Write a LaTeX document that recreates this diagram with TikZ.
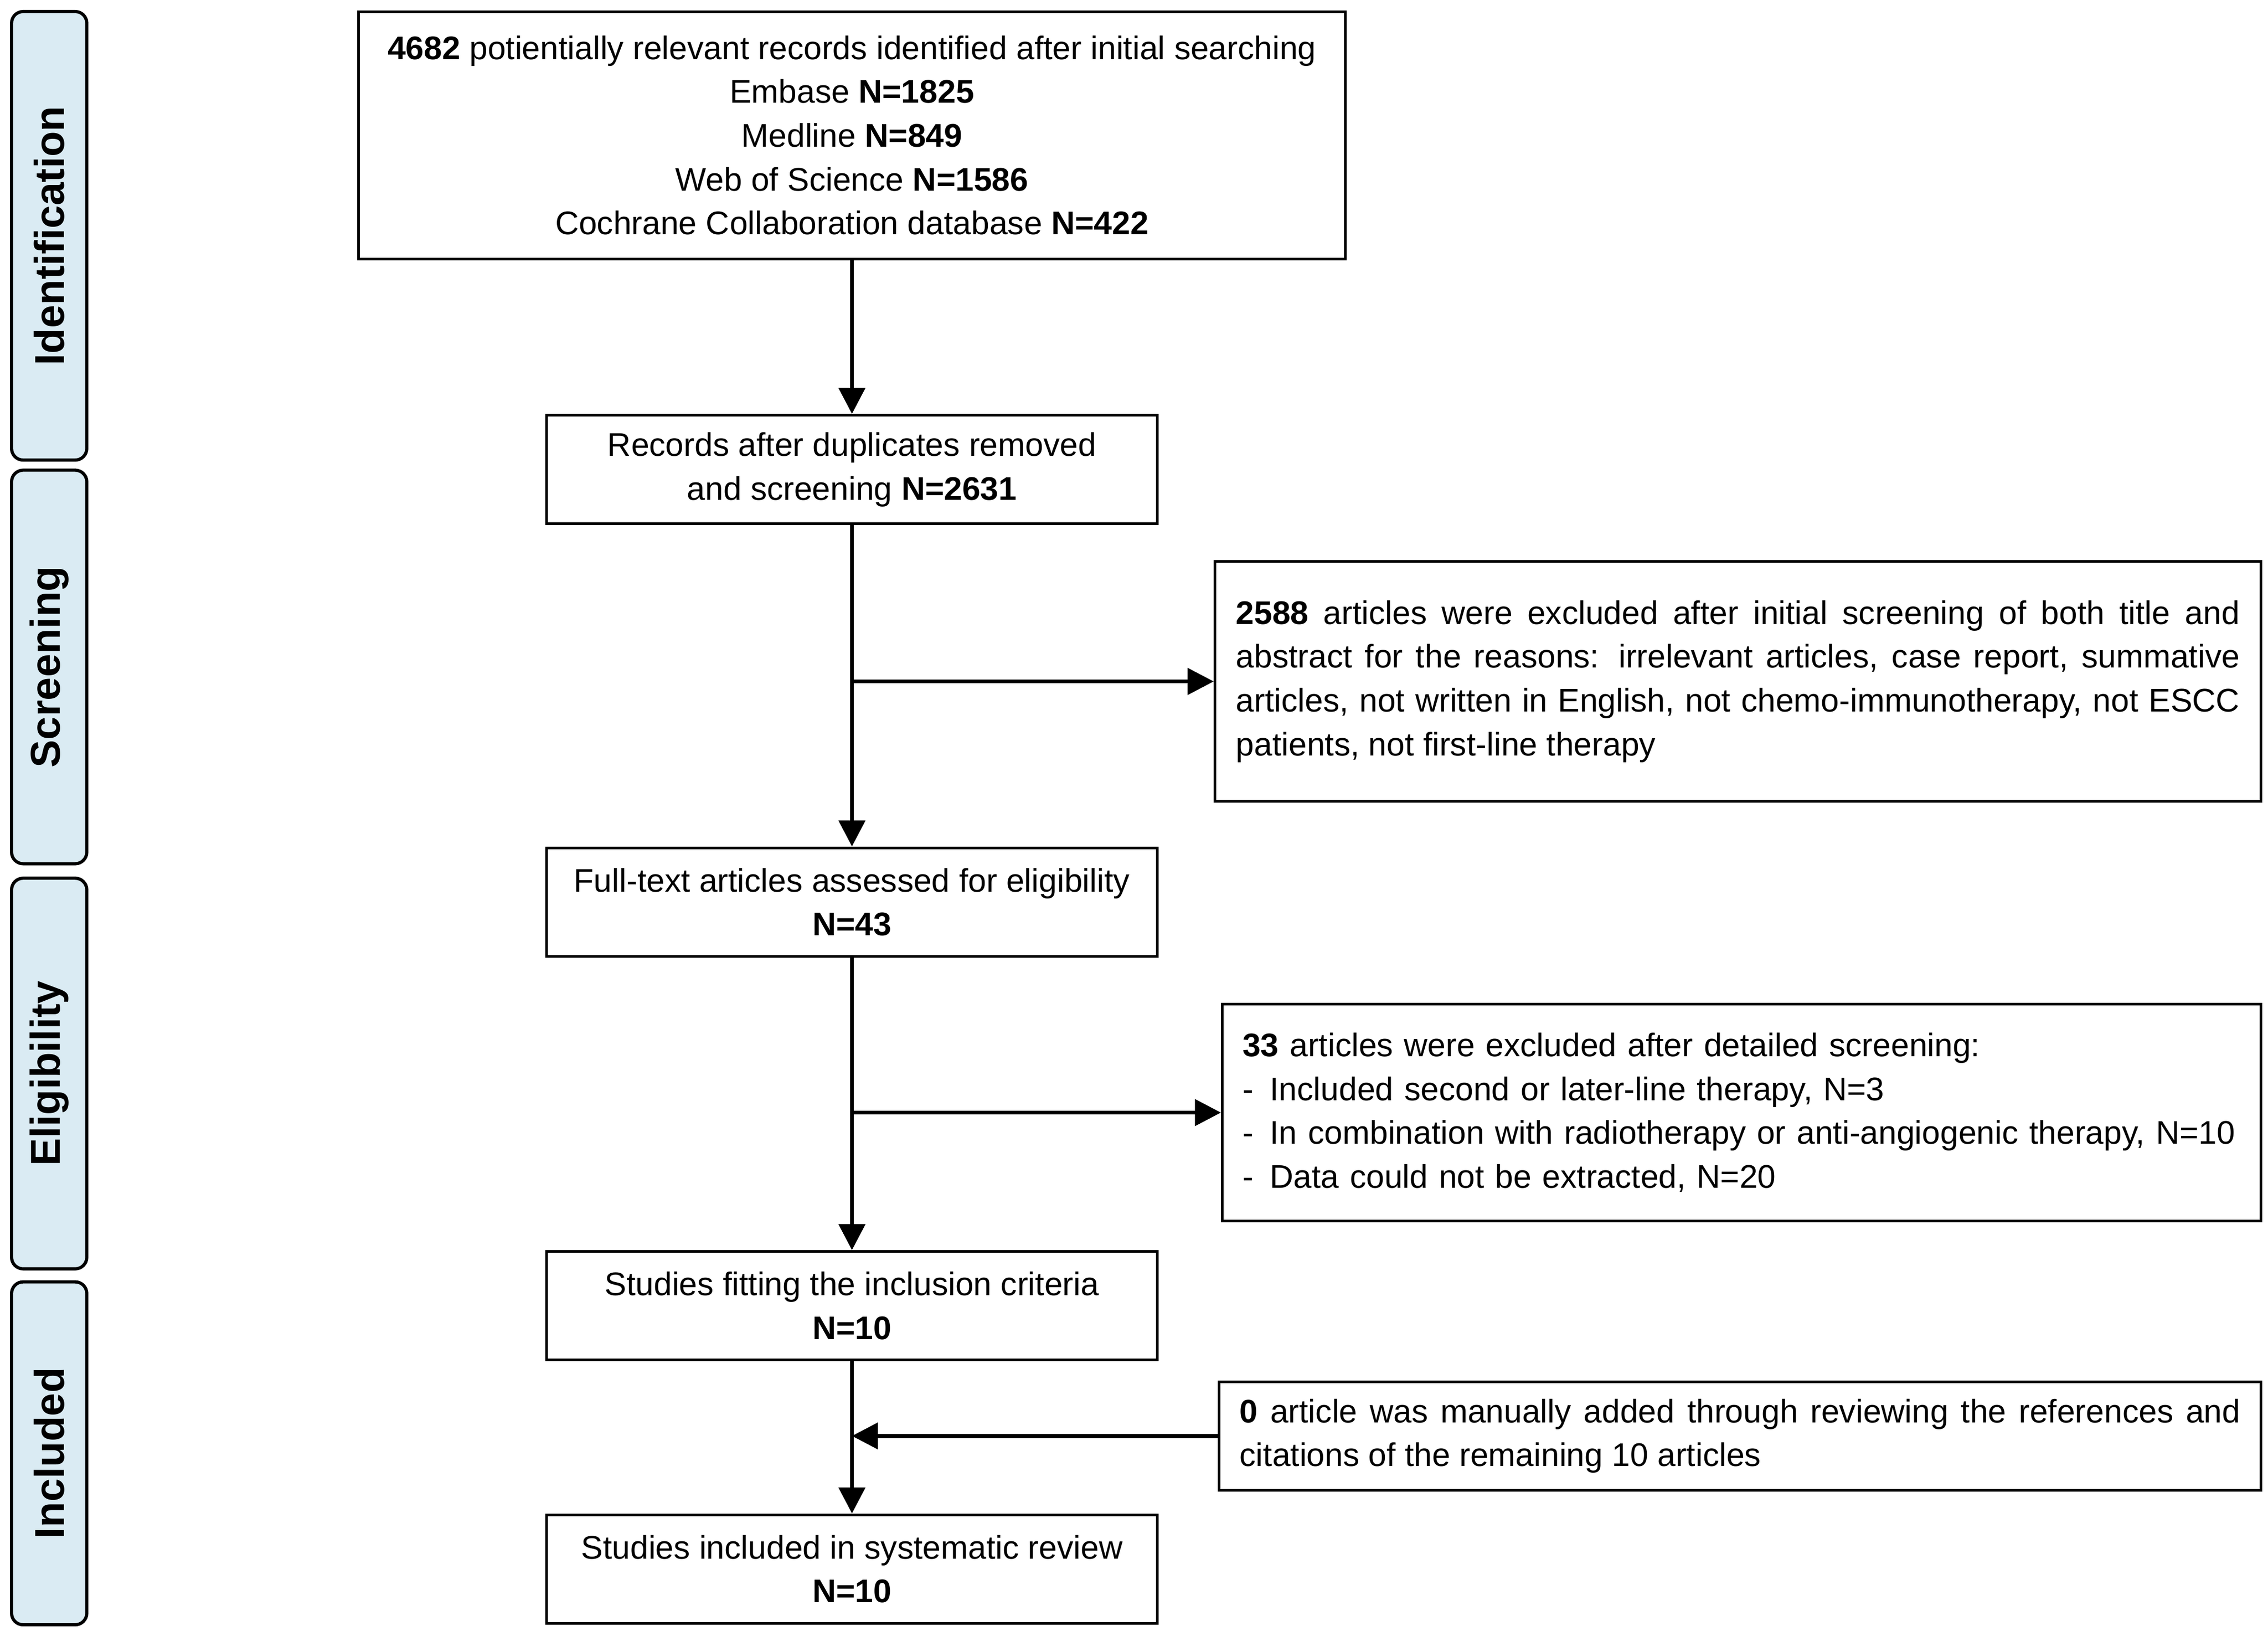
\documentclass[tikz,border=0pt]{standalone}
\usepackage{fontspec}
\setmainfont{Liberation Sans}
\usepackage{tikz}
\usetikzlibrary{arrows.meta}
\definecolor{phasefill}{RGB}{218,235,243}
\newcommand\nohyph{\hyphenpenalty 10000 \exhyphenpenalty 10000 }

\begin{document}
\begin{tikzpicture}[x=0.5pt, y=0.5pt,
	box/.style={draw, line width=0.9pt, inner sep=0pt,
		font=\fontsize{11.3}{15.15}\selectfont\nohyph},
	phase/.style={draw, line width=1.1pt, fill=phasefill, rounded corners=4pt, rotate=90,
		minimum height=26pt, inner sep=0pt, font=\fontsize{14.4}{16}\selectfont\bfseries},
	arr/.style={line width=1.4pt, -{Triangle[length=9pt, width=9pt]}}]
\useasboundingbox (0, 0) rectangle (1568, 1127);

\node[phase, minimum width=155pt] (ident) at (34, 964) {Identification};
\node[phase, minimum width=136pt] (screen) at (34, 666) {Screening};
\node[phase, minimum width=135pt] (elig) at (34, 385) {Eligibility};
\node[phase, minimum width=118.5pt] (incl) at (34, 122.5) {Included};

\node[box, minimum width=341pt, minimum height=85.5pt, align=center] (search) at (589, 1033.5)
	{\textbf{4682} potientially relevant records identified after initial searching\\
	Embase \textbf{N=1825}\\
	Medline \textbf{N=849}\\
	Web of Science \textbf{N=1586}\\
	Cochrane Collaboration database \textbf{N=422}};
\node[box, minimum width=211pt, minimum height=37.5pt, align=center] (dedup) at (589, 802.5)
	{Records after duplicates removed\\ and screening \textbf{N=2631}};
\node[box, minimum width=211pt, minimum height=37.5pt, align=center] (fulltext) at (589, 503.5)
	{Full-text articles assessed for eligibility\\ \textbf{N=43}};
\node[box, minimum width=211pt, minimum height=37.5pt, align=center] (fitting) at (589, 224.5)
	{Studies fitting the inclusion criteria\\ \textbf{N=10}};
\node[box, minimum width=211pt, minimum height=37.5pt, align=center] (final) at (589, 42.5)
	{Studies included in systematic review\\ \textbf{N=10}};

\node[box, minimum width=361.5pt, minimum height=83pt, text width=347pt, align=justify] (excl1) at (1201.5, 656)
	{\textbf{2588} articles were excluded after initial screening of both title and\linebreak
	abstract for the reasons: irrelevant articles, case report, summative\linebreak
	articles, not written in English, not chemo-immunotherapy, not ESCC\linebreak
	patients, not first-line therapy};
\node[box, minimum width=359pt, minimum height=75pt, text width=345pt, align=left] (excl2) at (1204, 358)
	{\textbf{33} articles were excluded after detailed screening:\\
	\makebox[9.5pt][l]{-}Included second or later-line therapy, N=3\\
	\makebox[9.5pt][l]{-}In combination with radiotherapy or anti-angiogenic therapy, N=10\\
	\makebox[9.5pt][l]{-}Data could not be extracted, N=20};
\node[box, minimum width=360pt, minimum height=37.5pt, text width=346pt, align=justify] (added) at (1203, 134.5)
	{\textbf{0} article was manually added through reviewing the references and\linebreak
	citations of the remaining 10 articles};

\coordinate (split1) at (dedup.south |- excl1.west);
\coordinate (split2) at (fulltext.south |- excl2.west);
\coordinate (join) at (fitting.south |- added.west);

\draw[arr] (search) -- (dedup);
\draw[arr] (dedup) -- (fulltext);
\draw[arr] (split1) -- (excl1.west);
\draw[arr] (fulltext) -- (fitting);
\draw[arr] (split2) -- (excl2.west);
\draw[arr] (fitting) -- (final);
\draw[arr] (added.west) -- (join);

\end{tikzpicture}
\end{document}
